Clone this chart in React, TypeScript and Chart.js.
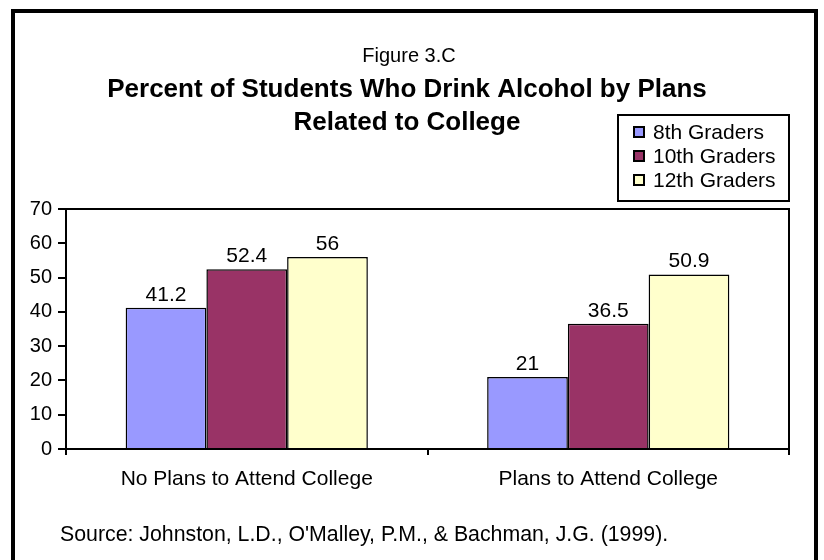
import React, { useEffect, useRef } from "react";
import { Chart, registerables } from "chart.js";

Chart.register(...registerables);

const categories = ["No Plans to Attend College", "Plans to Attend College"];
const seriesNames = ["8th Graders", "10th Graders", "12th Graders"];
const grade8 = [41.2, 21];
const grade10 = [52.4, 36.5];
const grade12 = [56, 50.9];
const seriesColors = ["#9999FF", "#993366", "#FFFFCC"];
const yTicks = [0, 10, 20, 30, 40, 50, 60, 70];
const figureLabel = "Figure 3.C";
const titleLines = ["Percent of Students Who Drink Alcohol by Plans", "Related to College"];
const sourceText = "Source: Johnston, L.D., O'Malley, P.M., & Bachman, J.G. (1999).";

const FONT = "'Liberation Sans', Arial, sans-serif";

const decorPlugin = {
  id: "decor",
  afterDraw(chart: any) {
    const ctx = chart.ctx;
    const area = chart.chartArea;
    ctx.save();
    // outer frame
    ctx.strokeStyle = "#000";
    ctx.lineWidth = 4;
    ctx.strokeRect(13, 11, 803, 620);
    // plot frame top and right
    ctx.lineWidth = 2;
    ctx.beginPath();
    ctx.moveTo(area.left, area.top);
    ctx.lineTo(area.right, area.top);
    ctx.lineTo(area.right, area.bottom);
    ctx.stroke();

    // titles
    ctx.fillStyle = "#000";
    ctx.textAlign = "center";
    ctx.textBaseline = "alphabetic";
    ctx.font = `20px ${FONT}`;
    ctx.fillText(figureLabel, 409, 62);
    ctx.font = `bold 26px ${FONT}`;
    ctx.fillText(titleLines[0], 407, 97);
    ctx.fillText(titleLines[1], 407, 130);

    // value labels
    ctx.font = `21px ${FONT}`;
    chart.data.datasets.forEach((ds: any, i: number) => {
      const meta = chart.getDatasetMeta(i);
      meta.data.forEach((el: any, j: number) => {
        ctx.fillText(String(ds.data[j]), el.x, el.y - 7);
      });
    });

    // legend
    ctx.lineWidth = 2;
    ctx.strokeRect(618, 115, 171, 86);
    ctx.textAlign = "left";
    ctx.textBaseline = "middle";
    ctx.font = `21px ${FONT}`;
    chart.data.datasets.forEach((ds: any, i: number) => {
      const cy = 132 + i * 24;
      ctx.fillStyle = ds.backgroundColor;
      ctx.fillRect(634, cy - 5, 10, 10);
      ctx.strokeStyle = "#000";
      ctx.lineWidth = 2;
      ctx.strokeRect(634, cy - 5, 10, 10);
      ctx.fillStyle = "#000";
      ctx.fillText(ds.label, 653, cy + 1);
    });

    // source
    ctx.textBaseline = "alphabetic";
    ctx.font = `21.3px ${FONT}`;
    ctx.fillText(sourceText, 60, 541);
    ctx.restore();
  },
};

export default function App() {
  const ref = useRef<HTMLCanvasElement | null>(null);
  useEffect(() => {
    document.body.style.margin = "0";
    const canvas = ref.current!;
    const data = [grade8, grade10, grade12];
    const chart = new Chart(canvas, {
      type: "bar",
      data: {
        labels: categories,
        datasets: seriesNames.map((name, i) => ({
          label: name,
          data: data[i],
          backgroundColor: seriesColors[i],
          borderColor: "#000",
          borderWidth: 1.5,
          categoryPercentage: 0.67,
          barPercentage: 1.0,
        })),
      },
      options: {
        responsive: false,
        animation: false,
        devicePixelRatio: 1,
        layout: { padding: { top: 209, right: 35, bottom: 0, left: 0 } },
        plugins: {
          legend: { display: false },
          title: { display: false },
          tooltip: { enabled: false },
        },
        scales: {
          x: {
            afterFit: (s: any) => {
              s.height = 560 - 449;
            },
            grid: {
              offset: true,
              drawOnChartArea: false,
              color: "#000",
              lineWidth: 2,
              tickLength: 6,
            },
            border: { color: "#000", width: 2 },
            ticks: {
              color: "#000",
              font: { family: FONT, size: 21 },
              padding: 12,
              maxRotation: 0,
            },
          },
          y: {
            min: 0,
            max: 70,
            afterFit: (s: any) => {
              s.width = 66;
            },
            afterBuildTicks: (s: any) => {
              s.ticks = yTicks.map((v) => ({ value: v }));
            },
            grid: {
              drawOnChartArea: false,
              color: "#000",
              lineWidth: 2,
              tickLength: 8,
            },
            border: { color: "#000", width: 2 },
            ticks: {
              color: "#000",
              font: { family: FONT, size: 20 },
              padding: 6,
            },
          },
        },
      },
      plugins: [decorPlugin],
    });
    return () => chart.destroy();
  }, []);
  return (
    <div style={{ position: "absolute", left: 0, top: 0, width: 824, height: 560, background: "#fff" }}>
      <canvas ref={ref} width={824} height={560} style={{ width: 824, height: 560, display: "block" }} />
    </div>
  );
}
